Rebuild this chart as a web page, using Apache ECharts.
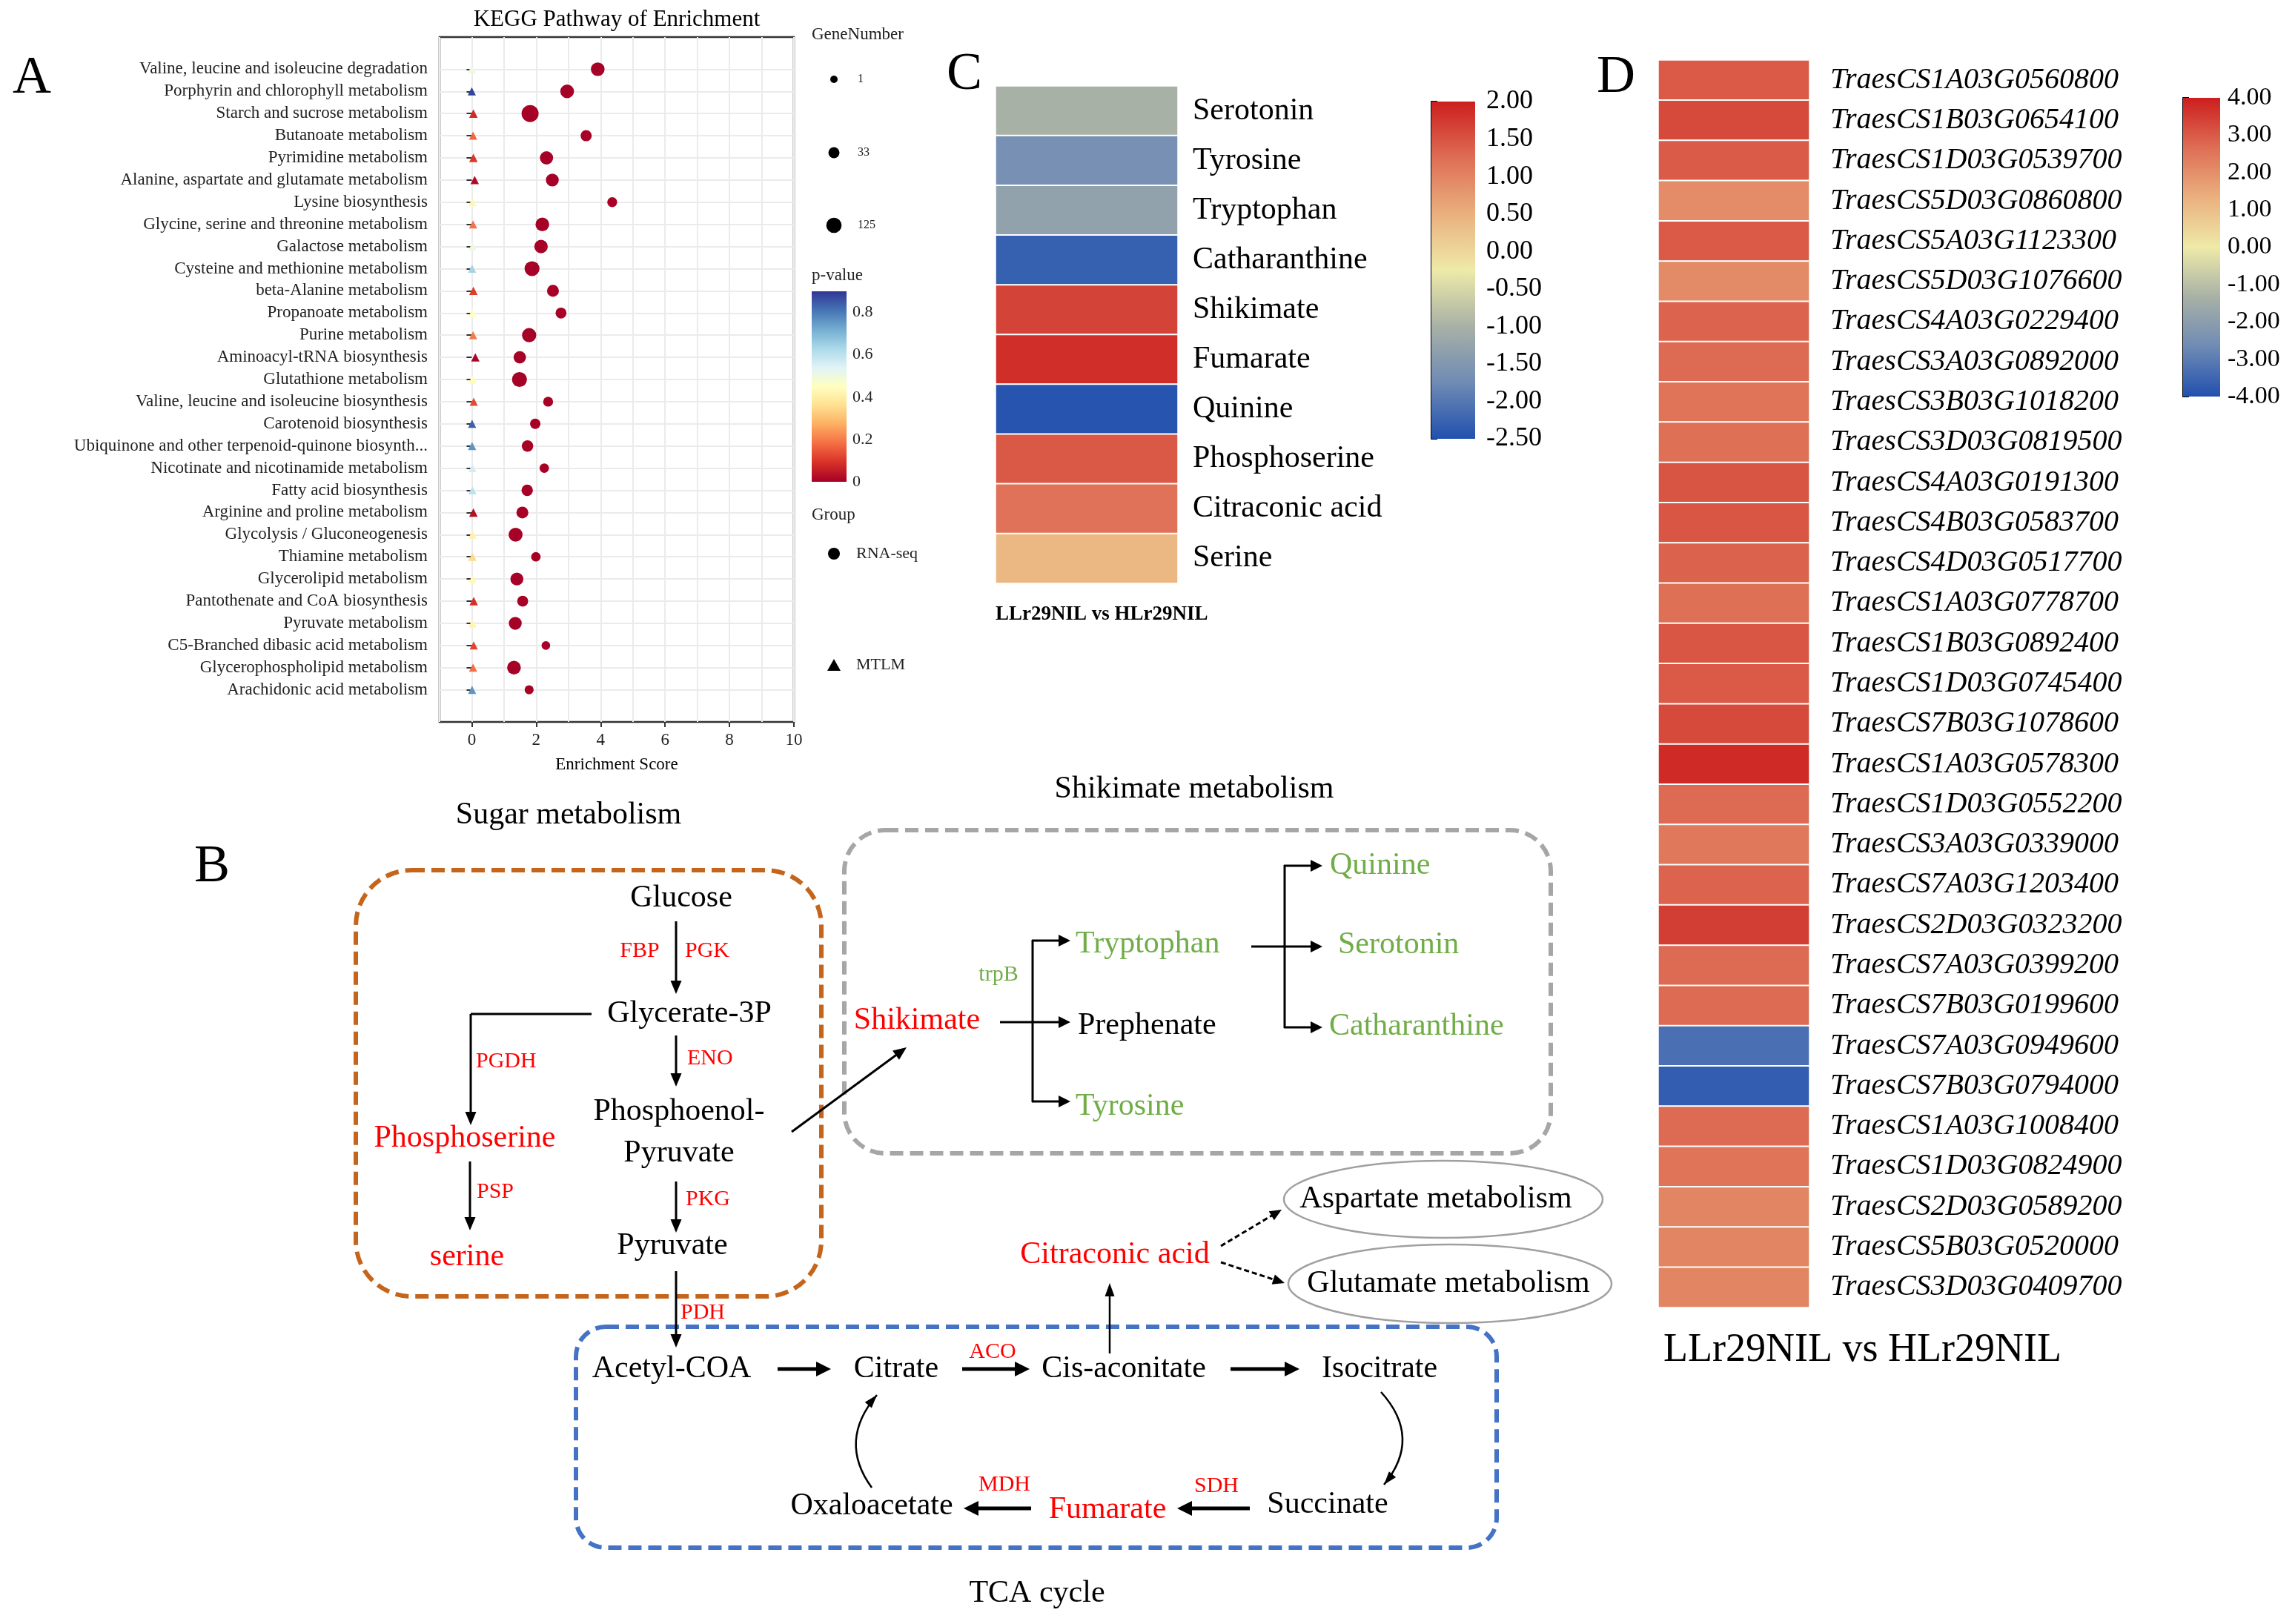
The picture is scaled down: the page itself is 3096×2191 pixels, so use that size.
<!DOCTYPE html>
<html><head><meta charset="utf-8">
<script src="https://cdn.jsdelivr.net/npm/echarts@6/dist/echarts.min.js"></script>
<style>html,body{margin:0;padding:0;background:#fff}#c{width:3096px;height:2191px}</style>
</head><body><div id="c"></div>
<script>
const FONT = '"Liberation Serif","Times New Roman",serif';

// ---------- Panel A: KEGG enrichment ----------
const pathways = [
  'Valine, leucine and isoleucine degradation','Porphyrin and chlorophyll metabolism','Starch and sucrose metabolism',
  'Butanoate metabolism','Pyrimidine metabolism','Alanine, aspartate and glutamate metabolism','Lysine biosynthesis',
  'Glycine, serine and threonine metabolism','Galactose metabolism','Cysteine and methionine metabolism',
  'beta-Alanine metabolism','Propanoate metabolism','Purine metabolism','Aminoacyl-tRNA biosynthesis',
  'Glutathione metabolism','Valine, leucine and isoleucine biosynthesis','Carotenoid biosynthesis',
  'Ubiquinone and other terpenoid-quinone biosynth...','Nicotinate and nicotinamide metabolism','Fatty acid biosynthesis',
  'Arginine and proline metabolism','Glycolysis / Gluconeogenesis','Thiamine metabolism','Glycerolipid metabolism',
  'Pantothenate and CoA biosynthesis','Pyruvate metabolism','C5-Branched dibasic acid metabolism',
  'Glycerophospholipid metabolism','Arachidonic acid metabolism'];
const rnaScore = [3.91,2.96,1.81,3.55,2.32,2.50,4.36,2.19,2.15,1.87,2.52,2.77,1.78,1.49,1.48,2.37,1.97,1.73,2.25,1.72,1.57,1.36,1.99,1.40,1.58,1.35,2.30,1.31,1.78];
const rnaGenes = [82,82,177,34,72,65,18,82,77,114,46,31,95,56,114,18,24,38,13,38,46,89,13,65,31,65,7,82,9];
const rnaP     = [0.002,0.001,0.001,0.003,0.001,0.002,0.004,0.001,0.002,0.001,0.003,0.004,0.001,0.002,0.001,0.004,0.003,0.003,0.004,0.002,0.003,0.001,0.004,0.002,0.003,0.001,0.005,0.001,0.004];
const mtlmScore = [0.00,0.00,0.05,0.04,0.05,0.09,0.02,0.04,0.02,0.01,0.05,0.02,0.04,0.11,0.02,0.06,0.01,0.01,0.02,0.02,0.05,0.02,0.02,0.02,0.06,0.02,0.06,0.04,0.01];
const mtlmGenes = [1,1,2,1,2,2,1,1,1,1,2,1,1,2,1,1,1,1,1,1,2,1,1,1,2,1,1,1,1];
const mtlmP     = [0.50,0.88,0.08,0.17,0.10,0.02,0.43,0.19,0.50,0.64,0.11,0.45,0.20,0.01,0.44,0.13,0.84,0.76,0.56,0.60,0.03,0.41,0.35,0.43,0.09,0.42,0.12,0.18,0.76];
const xTicksA = [0,2,4,6,8,10];
const geneLegend = [1,33,125];
const pTicks = [0,0.2,0.4,0.6,0.8];

// ---------- Panel C: metabolites ----------
const metabolites = ['Serotonin','Tyrosine','Tryptophan','Catharanthine','Shikimate','Fumarate','Quinine','Phosphoserine','Citraconic acid','Serine'];
const metaboliteFC = [-1.0,-1.65,-1.3,-2.3,1.65,1.85,-2.45,1.45,1.2,0.4];

// ---------- Panel D: genes ----------
const genes = ['TraesCS1A03G0560800','TraesCS1B03G0654100','TraesCS1D03G0539700','TraesCS5D03G0860800','TraesCS5A03G1123300',
  'TraesCS5D03G1076600','TraesCS4A03G0229400','TraesCS3A03G0892000','TraesCS3B03G1018200','TraesCS3D03G0819500',
  'TraesCS4A03G0191300','TraesCS4B03G0583700','TraesCS4D03G0517700','TraesCS1A03G0778700','TraesCS1B03G0892400',
  'TraesCS1D03G0745400','TraesCS7B03G1078600','TraesCS1A03G0578300','TraesCS1D03G0552200','TraesCS3A03G0339000',
  'TraesCS7A03G1203400','TraesCS2D03G0323200','TraesCS7A03G0399200','TraesCS7B03G0199600','TraesCS7A03G0949600',
  'TraesCS7B03G0794000','TraesCS1A03G1008400','TraesCS1D03G0824900','TraesCS2D03G0589200','TraesCS5B03G0520000','TraesCS3D03G0409700'];
const geneFC = [3.0,3.27,2.97,2.07,3.0,2.1,2.84,2.74,2.55,2.63,3.1,3.07,2.87,2.63,3.07,3.0,3.27,3.8,2.74,2.47,2.84,3.47,2.74,2.74,-3.3,-3.7,2.74,2.55,2.2,2.2,2.2];
const compareLabel = 'LLr29NIL vs HLr29NIL';

const heatColors = ['#2150ae','#6f8bb5','#a8b1a6','#eeeaa8','#eab07e','#de6e55','#cc1e1e'];
const pColors = ['#a50026','#d73027','#f46d43','#fdae61','#fee090','#ffffbf','#e0f3f8','#abd9e9','#74add1','#4575b4','#313695'];

function sizeOf(n){ return 10 + (Math.sqrt(n)-1)/(Math.sqrt(125)-1)*10.7; }
function grad(colors){ return {type:'linear',x:0,y:1,x2:0,y2:0,colorStops:colors.map((c,i)=>({offset:i/(colors.length-1),color:c}))}; }

// ---------- graphic helpers ----------
const G = [];
function txt(t,x,y,o){ o=o||{};
  G.push({type:'text',x:x,y:y,silent:true,z:10,style:{text:t,fontSize:o.size||42,fontFamily:FONT,fontWeight:o.weight||'normal',
    fontStyle:o.style||'normal',fill:o.color||'#000',align:o.align||'center',verticalAlign:'middle',
    textAlign:o.align||'center',textVerticalAlign:'middle'}});
}
function line(x1,y1,x2,y2,o){ o=o||{}; const st={stroke:o.color||'#000',lineWidth:o.lw||3}; if(o.dash) st.lineDash=o.dash;
  G.push({type:'line',silent:true,z:10,shape:{x1,y1,x2,y2},style:st}); }
function head(x,y,ux,uy,hl,hw,c){ const bx=x-ux*hl, by=y-uy*hl;
  G.push({type:'polygon',silent:true,z:10,shape:{points:[[x,y],[bx-uy*hw/2,by+ux*hw/2],[bx+uy*hw/2,by-ux*hw/2]]},style:{fill:c}}); }
function arrow(x1,y1,x2,y2,o){ o=o||{}; const hl=o.hl||18,hw=o.hw||15,c=o.color||'#000';
  const dx=x2-x1,dy=y2-y1,L=Math.hypot(dx,dy),ux=dx/L,uy=dy/L;
  line(x1,y1,x2-ux*(hl-2),y2-uy*(hl-2),o); head(x2,y2,ux,uy,hl,hw,c); }
function curve(x1,y1,cx,cy,x2,y2,o){ o=o||{};
  G.push({type:'bezierCurve',silent:true,z:10,shape:{x1,y1,x2,y2,cpx1:cx,cpy1:cy},style:{stroke:'#000',fill:'none',lineWidth:o.lw||2.5}});
  const dx=x2-cx,dy=y2-cy,L=Math.hypot(dx,dy); head(x2,y2,dx/L,dy/L,o.hl||18,o.hw||12,'#000'); }
function box(x,y,w,h,r,c){ G.push({type:'rect',silent:true,z:5,shape:{x,y,width:w,height:h,r:r},style:{fill:'none',stroke:c,lineWidth:6,lineDash:[18,9]}}); }
function ell(cx,cy,rx,ry){ G.push({type:'ellipse',silent:true,z:5,shape:{cx,cy,rx,ry},style:{fill:'none',stroke:'#a0a0a0',lineWidth:2.5}}); }

// Panel letters
txt('A',17,106,{size:72,align:'left'});
txt('B',262,1170,{size:72,align:'left'});
txt('C',1277,101,{size:72,align:'left'});
txt('D',2154,105,{size:72,align:'left'});

// Panel A texts + legends
txt('KEGG Pathway of Enrichment',832,27,{size:31});
txt('Enrichment Score',832,1032,{size:23});
txt('GeneNumber',1095,47,{size:23,align:'left',color:'#222'});
geneLegend.forEach((n,i)=>{ const y=[107,206,304][i];
  G.push({type:'circle',silent:true,z:10,shape:{cx:1125,cy:y,r:sizeOf(n)/2},style:{fill:'#000'}});
  txt(String(n),1157,y,{size:16,align:'left',color:'#222'}); });
txt('p-value',1095,372,{size:23,align:'left',color:'#222'});
G.push({type:'rect',silent:true,z:5,shape:{x:1095,y:393,width:47,height:257},style:{fill:grad(pColors)}});
txt('Group',1095,695,{size:23,align:'left',color:'#222'});
G.push({type:'circle',silent:true,z:10,shape:{cx:1125,cy:747,r:8},style:{fill:'#000'}});
G.push({type:'polygon',silent:true,z:10,shape:{points:[[1125,889],[1116,905],[1134,905]]},style:{fill:'#000'}});
txt('RNA-seq',1155,747,{size:22,align:'left',color:'#222'});
txt('MTLM',1155,897,{size:22,align:'left',color:'#222'});

// Panel C / D extras
G.push({type:'rect',silent:true,z:5,shape:{x:1931,y:137,width:59,height:455},style:{fill:grad(heatColors)}});
G.push({type:'rect',silent:true,z:5,shape:{x:2945,y:132,width:50,height:403},style:{fill:grad(heatColors)}});
txt(compareLabel,1343,829,{size:27,weight:'bold',align:'left'});
txt(compareLabel,2244,1822,{size:54,align:'left'});

// ---------- Panel B: pathway diagram ----------
const RED='#ff0000', GREEN='#70ad47';
box(480,1174,628,575,75,'#c5651b');
box(1139,1120,953,436,55,'#a6a6a6');
box(777,1790,1242,298,40,'#4472c4');
ell(1947,1618,215,52); ell(1956,1732,218,53);
txt('Sugar metabolism',767,1100);
txt('Shikimate metabolism',1611,1065);
txt('TCA cycle',1399,2150);
txt('Glucose',919,1212);
txt('FBP',863,1283,{size:30,color:RED}); txt('PGK',954,1283,{size:30,color:RED});
arrow(912,1243,912,1341);
txt('Glycerate-3P',930,1368);
line(798,1368,635,1368); arrow(635,1368,635,1518);
txt('PGDH',642,1432,{size:30,color:RED,align:'left'});
arrow(912,1397,912,1466);
txt('ENO',927,1428,{size:30,color:RED,align:'left'});
txt('Phosphoenol-',916,1500); txt('Pyruvate',916,1556);
txt('Phosphoserine',627,1536,{color:RED});
arrow(634,1567,634,1660);
txt('PSP',643,1608,{size:30,color:RED,align:'left'});
txt('serine',630,1696,{color:RED});
arrow(912,1594,912,1663);
txt('PKG',925,1618,{size:30,color:RED,align:'left'});
txt('Pyruvate',907,1681);
arrow(912,1715,912,1818);
txt('PDH',918,1771,{size:30,color:RED,align:'left'});
arrow(1068,1527,1223,1413);
// shikimate
txt('Shikimate',1237,1377,{color:RED});
txt('trpB',1347,1315,{size:30,color:GREEN});
arrow(1349,1379,1444,1379,{hl:16,hw:16});
line(1393,1268,1393,1487);
arrow(1392,1269,1444,1269,{hl:16,hw:16}); arrow(1392,1486,1444,1486,{hl:16,hw:16});
txt('Tryptophan',1451,1274,{color:GREEN,align:'left'});
txt('Prephenate',1454,1384,{align:'left'});
txt('Tyrosine',1451,1493,{color:GREEN,align:'left'});
arrow(1688,1277,1784,1277,{hl:16,hw:16});
line(1733,1167,1733,1387);
arrow(1732,1168,1784,1168,{hl:16,hw:16}); arrow(1732,1386,1784,1386,{hl:16,hw:16});
txt('Quinine',1794,1168,{color:GREEN,align:'left'});
txt('Serotonin',1805,1275,{color:GREEN,align:'left'});
txt('Catharanthine',1793,1385,{color:GREEN,align:'left'});
// TCA
txt('Acetyl-COA',906,1847); txt('Citrate',1209,1847); txt('Cis-aconitate',1516,1847); txt('Isocitrate',1861,1847);
arrow(1049,1847,1121,1847,{lw:5,hl:20,hw:20});
arrow(1298,1847,1389,1847,{lw:5,hl:20,hw:20});
txt('ACO',1339,1824,{size:30,color:RED});
arrow(1660,1847,1753,1847,{lw:5,hl:20,hw:20});
curve(1863,1878,1919,1940,1867,2003);
txt('Succinate',1791,2030);
arrow(1686,2035,1588,2035,{lw:5,hl:20,hw:20});
txt('SDH',1641,2005,{size:30,color:RED});
txt('Fumarate',1494,2037,{color:RED});
arrow(1391,2035,1300,2035,{lw:5,hl:20,hw:20});
txt('MDH',1355,2003,{size:30,color:RED});
txt('Oxaloacetate',1176,2032);
curve(1176,2007,1130,1944,1183,1882);
arrow(1497,1826,1497,1731,{lw:2.5,hl:18,hw:13});
txt('Citraconic acid',1504,1693,{color:RED});
arrow(1647,1681,1729,1632,{lw:3,dash:[7,4],hl:16,hw:14});
arrow(1647,1703,1733,1731,{lw:3,dash:[7,4],hl:16,hw:14});
txt('Aspartate metabolism',1937,1618);
txt('Glutamate metabolism',1954,1732);

// ---------- chart ----------
const rowIdx = pathways.map((_,i)=>i);
const rnaData = pathways.map((_,i)=>[rnaScore[i],i,rnaP[i],rnaGenes[i]]);
const mtlmData = pathways.map((_,i)=>[mtlmScore[i],i,mtlmP[i],mtlmGenes[i]]);
const cData = metabolites.map((_,i)=>[0,i,metaboliteFC[i]]);
const dData = genes.map((_,i)=>[0,i,geneFC[i]]);

const hidden = {show:false};
const option = {
  animation:false,
  backgroundColor:'#fff',
  textStyle:{fontFamily:FONT},
  grid:[
    {left:593,top:50,width:478,height:924,show:true,backgroundColor:'#fff',borderColor:'#333',borderWidth:2.5},
    {left:1095,top:393,width:47,height:257},
    {left:1343,top:116,width:246,height:671},
    {left:1931,top:137,width:59,height:455},
    {left:2237,top:81,width:204,height:1683},
    {left:2945,top:132,width:50,height:403}
  ],
  xAxis:[
    {gridIndex:0,type:'value',min:-1,max:10,interval:1,axisLine:hidden,axisTick:hidden,axisLabel:hidden,
      splitLine:{show:true,lineStyle:{color:'#ebebeb',width:2}}},
    {gridIndex:0,type:'value',min:-1,max:10,position:'bottom',axisLine:hidden,splitLine:hidden,
      axisTick:{show:true,customValues:xTicksA,length:7,lineStyle:{color:'#333',width:2}},
      axisLabel:{customValues:xTicksA,fontSize:23,color:'#222',margin:13,fontFamily:FONT}},
    {gridIndex:1,type:'value',show:false,min:0,max:1},
    {gridIndex:2,type:'category',data:[compareLabel],show:false},
    {gridIndex:3,type:'value',show:false,min:0,max:1},
    {gridIndex:4,type:'category',data:[compareLabel],show:false},
    {gridIndex:5,type:'value',show:false,min:0,max:1}
  ],
  yAxis:[
    {gridIndex:0,type:'value',inverse:true,min:-1.45,max:29.45,axisLine:hidden,
      axisTick:{show:true,customValues:rowIdx,length:7,lineStyle:{color:'#333',width:2}},
      axisLabel:{customValues:rowIdx,formatter:v=>pathways[Math.round(v)],fontSize:23,color:'#222',margin:16,fontFamily:FONT},
      splitLine:{show:true,lineStyle:{color:'#ebebeb',width:2}}},
    {gridIndex:1,type:'value',min:0,max:0.9,position:'right',axisLine:hidden,axisTick:hidden,splitLine:hidden,
      axisLabel:{customValues:pTicks,formatter:v=>v===0?'0':v.toFixed(1),fontSize:22,color:'#222',margin:8,fontFamily:FONT}},
    {gridIndex:2,type:'category',inverse:true,data:metabolites,position:'right',axisLine:hidden,axisTick:hidden,
      axisLabel:{fontSize:42,color:'#000',margin:20,fontFamily:FONT}},
    {gridIndex:3,type:'value',min:-2.5,max:2,interval:0.5,position:'right',splitLine:hidden,
      axisLine:{show:true,lineStyle:{color:'#000',width:2}},axisTick:{show:true,length:8,lineStyle:{color:'#000',width:2}},
      axisLabel:{formatter:v=>v.toFixed(2),fontSize:36,color:'#000',margin:15,fontFamily:FONT}},
    {gridIndex:4,type:'category',inverse:true,data:genes,position:'right',axisLine:hidden,axisTick:hidden,
      axisLabel:{fontSize:40,fontStyle:'italic',color:'#000',margin:28,fontFamily:FONT}},
    {gridIndex:5,type:'value',min:-4,max:4,interval:1,position:'right',splitLine:hidden,
      axisLine:{show:true,lineStyle:{color:'#000',width:2}},axisTick:{show:true,length:8,lineStyle:{color:'#000',width:2}},
      axisLabel:{formatter:v=>v.toFixed(2),fontSize:34,color:'#000',margin:10,fontFamily:FONT}}
  ],
  visualMap:[
    {type:'continuous',show:false,seriesIndex:[0,1],dimension:2,min:0,max:0.9,inRange:{color:pColors}},
    {type:'continuous',show:false,seriesIndex:2,dimension:2,min:-2.5,max:2,inRange:{color:heatColors}},
    {type:'continuous',show:false,seriesIndex:3,dimension:2,min:-4,max:4,inRange:{color:heatColors}}
  ],
  series:[
    {name:'RNA-seq',type:'scatter',xAxisIndex:0,yAxisIndex:0,symbol:'circle',data:rnaData,symbolSize:v=>sizeOf(v[3]),
      itemStyle:{opacity:1},z:3},
    {name:'MTLM',type:'scatter',xAxisIndex:0,yAxisIndex:0,symbol:'triangle',data:mtlmData,symbolSize:v=>sizeOf(v[3])+1,
      itemStyle:{opacity:1},z:3},
    {name:'metabolites',type:'heatmap',xAxisIndex:3,yAxisIndex:2,data:cData,itemStyle:{borderColor:'#fff',borderWidth:2}},
    {name:'genes',type:'heatmap',xAxisIndex:5,yAxisIndex:4,data:dData,itemStyle:{borderColor:'#fff',borderWidth:2}}
  ],
  graphic:{elements:G}
};
const chart = echarts.init(document.getElementById('c'),null,{width:3096,height:2191,renderer:'canvas'});
chart.setOption(option);
</script></body></html>
